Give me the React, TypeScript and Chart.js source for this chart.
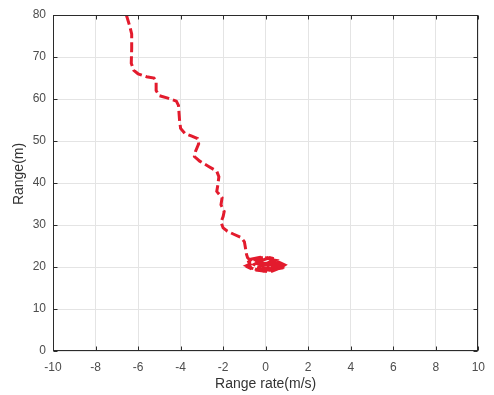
import { useEffect, useRef } from "react";
import { Chart, registerables } from "chart.js";
Chart.register(...registerables);

const rangeRate = [
  -6.55, -6.4, -6.3, -6.3, -6.32, -6.2, -6.0, -5.6, -5.25, -5.15, -5.15, -5.0, -4.6, -4.2, -4.1, -4.05, -4.0, -3.8, -3.5, -3.2,
  -3.15, -3.3, -3.35, -3.1, -2.7, -2.3, -2.2, -2.25, -2.3, -2.05, -2.1, -1.95, -2.0, -2.1, -2.0, -1.8, -1.5, -1.15, -1.0, -0.95, -0.9,
  -0.85, -0.6, -0.9, -0.5, -0.1, 0.3, 0.0, -0.4, -0.2, 0.2, 0.5, 0.1, 0.5, 0.85, 0.6, 0.2, -0.3, -0.7, -0.8, -0.4, 0.0, 0.4, 0.7,
  0.3, -0.2, -0.55, -0.3, 0.15, 0.35,
  0.6, 0.9, 0.7, 0.3, -0.2, -0.6, -0.85, -0.7, -0.3, 0.1, 0.45, 0.2, -0.1, -0.45, -0.15, 0.25, 0.55, 0.75, 0.35, 0.0,
  -0.5, -0.65, -0.25, 0.3, 0.6, 0.95, 0.5, 0.0, -0.4,
];
const range = [
  80, 77.5, 75.5, 72, 68.5, 66.8, 66.0, 65.3, 65.0, 64.2, 62, 60.8, 60.2, 59.5, 58.5, 55, 53, 51.8, 51.2, 50.6,
  49.3, 47.5, 46.3, 45.2, 44.0, 42.8, 41.5, 39.5, 38.0, 36.5, 34.8, 33.2, 32.0, 30.7, 29.3, 28.5, 27.8, 27.0, 26.0, 24.5, 23.0,
  22.2, 21.0, 20.3, 19.5, 19.0, 19.4, 20.2, 20.8, 21.6, 22.2, 21.8, 21.0, 20.5, 20.2, 19.6, 18.8, 19.2, 19.8, 21.2, 22.0, 22.4, 21.4, 20.6,
  20.0, 19.6, 20.6, 21.3, 20.6, 20.4,
  21.2, 20.5, 19.8, 19.3, 19.1, 19.4, 20.0, 20.9, 21.5, 21.9, 21.6, 20.9, 20.4, 20.1, 19.6, 19.8, 20.3, 20.9, 21.1, 20.8,
  21.4, 21.9, 22.3, 22.1, 20.0, 19.9, 19.5, 19.3, 19.8,
];
const xTicks = [-10, -8, -6, -4, -2, 0, 2, 4, 6, 8, 10];
const yTicks = [0, 10, 20, 30, 40, 50, 60, 70, 80];
const xTitle = "Range rate(m/s)";
const yTitle = "Range(m)";

const FONT = "'Liberation Sans', Arial, sans-serif";

export default function App() {
  const ref = useRef<HTMLCanvasElement>(null);
  useEffect(() => {
    document.body.style.margin = "0";
    const data = rangeRate.map((x, i) => ({ x, y: range[i] }));
    const frame = {
      id: "frame",
      afterDatasetsDraw(chart: any) {
        const { ctx, chartArea } = chart;
        const l = Math.round(chartArea.left) + 0.5;
        const r = Math.round(chartArea.right) - 0.5;
        const t = Math.round(chartArea.top) + 0.5;
        const b = Math.round(chartArea.bottom) - 0.5;
        ctx.save();
        ctx.strokeStyle = "#2b2b2b";
        ctx.lineWidth = 1;
        ctx.strokeRect(l, t, r - l, b - t);
        ctx.beginPath();
        const xs = chart.scales.x;
        const ys = chart.scales.y;
        for (const v of xTicks) {
          const px = Math.round(xs.getPixelForValue(v)) + 0.5;
          ctx.moveTo(px, b);
          ctx.lineTo(px, b - 4);
          ctx.moveTo(px, t);
          ctx.lineTo(px, t + 4);
        }
        for (const v of yTicks) {
          const py = Math.round(ys.getPixelForValue(v)) + 0.5;
          ctx.moveTo(l, py);
          ctx.lineTo(l + 4, py);
          ctx.moveTo(r, py);
          ctx.lineTo(r - 4, py);
        }
        ctx.stroke();
        // axis titles
        ctx.fillStyle = "#333333";
        ctx.font = `14px ${FONT}`;
        ctx.textAlign = "center";
        ctx.textBaseline = "alphabetic";
        ctx.fillText(xTitle, (chartArea.left + chartArea.right) / 2, 388);
        ctx.translate(23, 174);
        ctx.rotate(-Math.PI / 2);
        ctx.fillText(yTitle, 0, 0);
        ctx.restore();
      },
    };
    const chart = new Chart(ref.current!, {
      type: "scatter",
      data: {
        datasets: [
          {
            data,
            showLine: true,
            borderColor: "#e31b2d",
            borderWidth: 3,
            borderDash: [10, 4],
            pointRadius: 0,
            fill: false,
            tension: 0,
          } as any,
        ],
      },
      options: {
        animation: false,
        responsive: false,
        devicePixelRatio: 1,
        layout: { padding: { top: 15, right: 14, left: 0, bottom: 0 } },
        plugins: { legend: { display: false }, tooltip: { enabled: false } },
        scales: {
          x: {
            type: "linear",
            min: -10,
            max: 10,
            afterBuildTicks: (s: any) => {
              s.ticks = xTicks.map((v) => ({ value: v }));
            },
            afterFit: (s: any) => {
              s.height = 44;
            },
            grid: { color: "#e4e4e4", drawTicks: false },
            border: { display: false },
            ticks: { font: { family: FONT, size: 12 }, color: "#4d4d4d", padding: 9, maxRotation: 0 },
          },
          y: {
            type: "linear",
            min: 0,
            max: 80,
            afterBuildTicks: (s: any) => {
              s.ticks = yTicks.map((v) => ({ value: v }));
            },
            afterFit: (s: any) => {
              s.width = 53;
            },
            grid: { color: "#e4e4e4", drawTicks: false },
            border: { display: false },
            ticks: { font: { family: FONT, size: 12 }, color: "#4d4d4d", padding: 7 },
          },
        },
      },
      plugins: [frame],
    });
    return () => chart.destroy();
  }, []);
  return (
    <div style={{ width: 494, height: 395 }}>
      <canvas ref={ref} width={494} height={395} />
    </div>
  );
}
